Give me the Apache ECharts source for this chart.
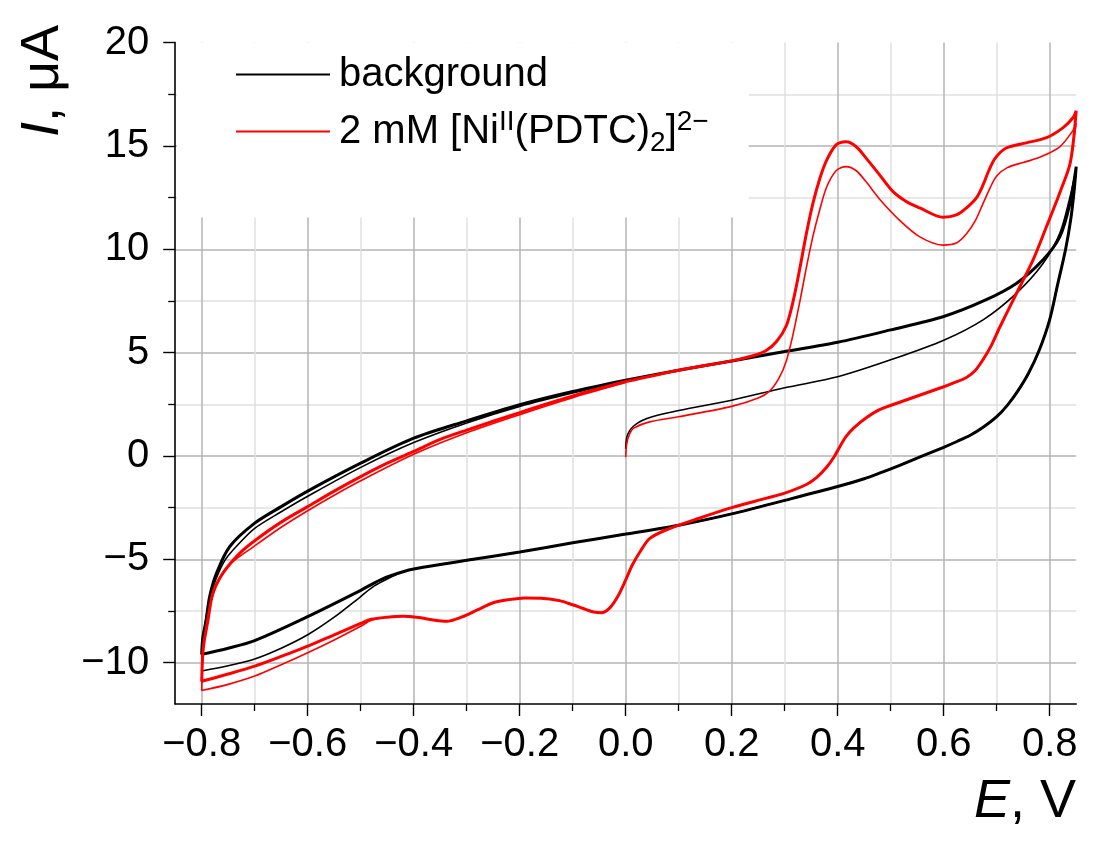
<!DOCTYPE html>
<html><head><meta charset="utf-8">
<script src="https://cdn.jsdelivr.net/npm/echarts@6/dist/echarts.min.js"></script>
<style>html,body{margin:0;padding:0;background:#fff}#c{width:1096px;height:847px}</style>
</head><body><div id="c"></div><script>
// ---------- tick values ----------
const xTicks = [-0.8, -0.6, -0.4, -0.2, 0, 0.2, 0.4, 0.6, 0.8];
const xMinorTicks = [-0.7, -0.5, -0.3, -0.1, 0.1, 0.3, 0.5, 0.7];
const yTicks = [-10, -5, 0, 5, 10, 15, 20];
const yMinorTicks = [-7.5, -2.5, 2.5, 7.5, 12.5, 17.5];

// ---------- series names ----------
const bgName = 'background';
const niName = '2 mM [Niᴵᴵ(PDTC)₂]²⁻';

// ---------- background (black) segments [E (V), I (µA)] ----------
const bgFwd1 = [[0,0.35],[0.002,0.9],[0.007,1.2],[0.015,1.45],[0.03,1.7],[0.05,1.9],[0.1,2.2],[0.2,2.7],[0.3,3.3],[0.4,3.83],[0.5,4.65],[0.6,5.6],[0.675,6.6],[0.737,7.87],[0.787,9.3],[0.819,10.77],[0.838,12.5],[0.85,13.9]];
const bgFwd2 = [[0,3.67],[0.1,4.15],[0.2,4.6],[0.3,5.05],[0.4,5.5],[0.5,6.1],[0.6,6.75],[0.675,7.5],[0.737,8.35],[0.787,9.48],[0.819,10.6],[0.838,12.2],[0.85,14.0]];
const bgRev = [[0.846,12.8],[0.84,11.5],[0.83,10.0],[0.815,8.3],[0.8,6.6],[0.78,5.1],[0.76,4.0],[0.74,3.15],[0.72,2.45],[0.7,1.9],[0.675,1.4],[0.65,1.0],[0.625,0.7],[0.6,0.42],[0.56,0.0],[0.517,-0.45],[0.48,-0.82],[0.45,-1.1],[0.4,-1.48],[0.3,-2.15],[0.2,-2.8],[0.1,-3.35],[0,-3.78],[-0.1,-4.2],[-0.2,-4.65],[-0.3,-5.05],[-0.35,-5.25],[-0.4,-5.47],[-0.42,-5.6]];
const bgRevA = [[-0.45,-5.95],[-0.475,-6.3],[-0.5,-6.8],[-0.55,-7.8],[-0.6,-8.65],[-0.65,-9.3],[-0.7,-9.82],[-0.75,-10.15],[-0.8,-10.4]];
const bgRevB = [[-0.45,-5.85],[-0.475,-6.15],[-0.5,-6.5],[-0.6,-7.77],[-0.7,-8.93],[-0.75,-9.3],[-0.8,-9.6]];
const bgRetA = [[-0.798,-9.2],[-0.793,-8.0],[-0.785,-6.95],[-0.773,-5.95],[-0.755,-5.0],[-0.73,-4.25],[-0.7,-3.5],[-0.65,-2.7],[-0.6,-1.95],[-0.5,-0.55],[-0.4,0.65],[-0.3,1.6],[-0.2,2.4],[-0.1,3.05],[0,3.62]];
const bgRetB = [[-0.798,-8.8],[-0.792,-8.0],[-0.785,-6.8],[-0.772,-5.67],[-0.747,-4.38],[-0.7,-3.25],[-0.65,-2.45],[-0.6,-1.7],[-0.5,-0.35],[-0.4,0.86],[-0.3,1.7],[-0.2,2.48],[-0.1,3.12],[0,3.67]];

// ---------- Ni complex (red) segments ----------
const niFwd1 = [[0,-0.05],[0.002,0.6],[0.008,1.1],[0.015,1.35],[0.045,1.65],[0.1,1.9],[0.2,2.4],[0.25,2.8],[0.272,3.15],[0.29,3.8],[0.303,4.6],[0.315,5.8],[0.328,7.4],[0.34,9.0],[0.353,10.6],[0.366,11.9],[0.379,13.0],[0.397,13.8],[0.416,14.0],[0.435,13.8],[0.454,13.25],[0.48,12.4],[0.517,11.4],[0.555,10.6],[0.599,10.2],[0.624,10.3],[0.643,10.75],[0.66,11.4],[0.674,12.2],[0.688,13.0],[0.7,13.55],[0.72,13.95],[0.75,14.2],[0.781,14.45],[0.819,14.96],[0.844,15.75],[0.85,16.1]];
const niFwd2 = [[0,3.6],[0.1,4.15],[0.2,4.6],[0.24,4.85],[0.265,5.1],[0.285,5.55],[0.303,6.3],[0.316,7.5],[0.328,9.0],[0.341,10.77],[0.353,12.2],[0.366,13.4],[0.379,14.3],[0.397,15.05],[0.416,15.2],[0.435,14.96],[0.454,14.4],[0.479,13.6],[0.504,12.8],[0.53,12.3],[0.555,12.0],[0.599,11.55],[0.624,11.66],[0.643,12.0],[0.662,12.5],[0.674,13.1],[0.685,13.8],[0.697,14.4],[0.718,14.9],[0.756,15.15],[0.794,15.4],[0.826,15.9],[0.845,16.4],[0.85,16.7]];
const niRev = [[0.845,15.3],[0.838,14.1],[0.82,12.8],[0.794,11.1],[0.768,9.45],[0.737,7.85],[0.706,6.24],[0.69,5.35],[0.674,4.65],[0.66,4.15],[0.643,3.8],[0.62,3.55],[0.6,3.35],[0.517,2.6],[0.48,2.25],[0.454,1.85],[0.43,1.35],[0.416,0.95],[0.405,0.5],[0.393,-0.05],[0.379,-0.55],[0.36,-1.05],[0.341,-1.38],[0.3,-1.8],[0.266,-2.04],[0.2,-2.5],[0.14,-3.0],[0.077,-3.57],[0.045,-4.0],[0.028,-4.6],[0.012,-5.3],[0,-6.0],[-0.015,-6.8],[-0.03,-7.35],[-0.045,-7.58],[-0.06,-7.55],[-0.08,-7.38],[-0.1,-7.2],[-0.125,-7.0],[-0.16,-6.88],[-0.19,-6.87],[-0.22,-6.95],[-0.25,-7.1],[-0.28,-7.45],[-0.31,-7.8],[-0.338,-8.0],[-0.36,-7.95],[-0.39,-7.82],[-0.42,-7.75],[-0.45,-7.8]];
const niRevA = [[-0.48,-7.95],[-0.5,-8.24],[-0.55,-8.9],[-0.6,-9.52],[-0.65,-10.1],[-0.7,-10.65],[-0.75,-11.05],[-0.8,-11.35]];
const niRevB = [[-0.48,-7.9],[-0.5,-8.1],[-0.55,-8.65],[-0.6,-9.2],[-0.65,-9.7],[-0.7,-10.17],[-0.75,-10.55],[-0.8,-10.9]];
const niRetA = [[-0.798,-9.6],[-0.792,-8.3],[-0.783,-7.1],[-0.768,-6.05],[-0.745,-5.2],[-0.7,-4.35],[-0.65,-3.45],[-0.6,-2.65],[-0.55,-1.9],[-0.5,-1.2],[-0.4,0.08],[-0.3,1.12],[-0.2,2.0],[-0.1,2.82],[0,3.55]];
const niRetB = [[-0.797,-9.3],[-0.788,-7.93],[-0.779,-6.64],[-0.76,-5.67],[-0.728,-4.7],[-0.7,-4.1],[-0.65,-3.2],[-0.6,-2.45],[-0.55,-1.7],[-0.5,-1.0],[-0.45,-0.35],[-0.4,0.22],[-0.35,0.8],[-0.3,1.25],[-0.2,2.1],[-0.1,2.9],[0,3.6]];

// cycles (scan order)
const bgCycle1 = bgFwd1.concat(bgRev, bgRevA, bgRetA);
const bgCycle2 = bgFwd2.concat(bgRev, bgRevB, bgRetB);
const niCycle1 = niFwd1.concat(niRev, niRevA, niRetA);
const niCycle2 = niFwd2.concat(niRev, niRevB, niRetB);

const FONT = "'Liberation Sans', Arial, sans-serif";
const minus = s => s.replace('-', '\u2212');
const xFmt = v => Math.abs(v) < 1e-9 ? '0.0' : minus(v.toFixed(1));
const yFmt = v => minus(String(v));

function lineSeries(name, data, color, width) {
  return {
    type: 'line', name: name, data: data, xAxisIndex: 0, yAxisIndex: 0,
    showSymbol: false, symbol: 'none', smooth: 0.3, silent: true,
    lineStyle: { color: color, width: width }, itemStyle: { color: color },
    z: 3
  };
}

const chart = echarts.init(document.getElementById('c'), null, { renderer: 'canvas' });
chart.setOption({
  animation: false,
  backgroundColor: '#ffffff',
  grid: { left: 175.2, right: 19.8, top: 42.6, bottom: 143, outerBoundsMode: 'none', containLabel: false },
  xAxis: [{
    type: 'value', min: -0.85, max: 0.85, position: 'bottom',
    axisLine: { show: true, onZero: false, lineStyle: { color: '#000', width: 1.6 } },
    axisTick: { show: true, inside: false, length: 12, customValues: xTicks, lineStyle: { color: '#000', width: 1.4 } },
    axisLabel: { show: true, customValues: xTicks, margin: 21, fontSize: 40, fontFamily: FONT, color: '#000', formatter: xFmt },
    splitLine: { show: true, lineStyle: { color: '#b5b5b5', width: 1.5 } }
  }, {
    type: 'value', min: -0.85, max: 0.85, position: 'bottom', gridIndex: 0,
    axisLine: { show: false, onZero: false },
    axisTick: { show: true, inside: false, length: 7, customValues: xMinorTicks, lineStyle: { color: '#000', width: 1.3 } },
    axisLabel: { show: false },
    splitLine: { show: true, lineStyle: { color: '#e0e0e0', width: 1.5 } }
  }],
  yAxis: [{
    type: 'value', min: -12, max: 20, position: 'left',
    axisLine: { show: true, onZero: false, lineStyle: { color: '#000', width: 1.6 } },
    axisTick: { show: true, inside: false, length: 12, customValues: yTicks, lineStyle: { color: '#000', width: 1.4 } },
    axisLabel: { show: true, customValues: yTicks, margin: 26, fontSize: 40, fontFamily: FONT, color: '#000', formatter: yFmt },
    splitLine: { show: true, showMaxLine: false, lineStyle: { color: '#b5b5b5', width: 1.5 } }
  }, {
    type: 'value', min: -12, max: 20, position: 'left', gridIndex: 0, offset: 0,
    axisLine: { show: false, onZero: false },
    axisTick: { show: true, inside: false, length: 7, customValues: yMinorTicks, lineStyle: { color: '#000', width: 1.3 } },
    axisLabel: { show: false },
    splitLine: { show: true, lineStyle: { color: '#e0e0e0', width: 1.5 } }
  }],
  legend: {
    data: [bgName, niName],
    orient: 'vertical', left: 177, top: 42.6,
    padding: [9, 40, 60, 59],
    backgroundColor: '#ffffff',
    icon: 'rect',
    itemWidth: 94, itemHeight: 2, itemGap: 8,
    selectedMode: false,
    z: 10,
    formatter: function (name) {
      if (name === bgName) return '{n|background}';
      return '{n|2 mM [Ni}{sup|II}{n|(PDTC)}{sub|2}{n|]}{sup|2\u2212}';
    },
    textStyle: {
      fontSize: 40, fontFamily: FONT, color: '#000', lineHeight: 46, padding: [0, 0, 0, 4],
      rich: {
        n: { fontSize: 40, fontFamily: FONT, color: '#000', lineHeight: 46 },
        sup: { fontSize: 28, fontFamily: FONT, color: '#000', lineHeight: 36, verticalAlign: 'top' },
        sub: { fontSize: 28, fontFamily: FONT, color: '#000', lineHeight: 32, padding: [24, 0, 0, 0], verticalAlign: 'middle' }
      }
    }
  },
  graphic: [{
    type: 'text', x: 1076, y: 802, z: 20,
    style: { text: '{i|E}, V', align: 'right', verticalAlign: 'middle', fontSize: 54, fontFamily: FONT, fill: '#000',
      rich: { i: { fontStyle: 'italic', fontSize: 54, fontFamily: FONT, fill: '#000' } } }
  }, {
    type: 'text', x: 43, y: 81, rotation: Math.PI / 2, z: 20,
    style: { text: '{i|I}, μA', align: 'center', verticalAlign: 'middle', fontSize: 54, fontFamily: FONT, fill: '#000',
      rich: { i: { fontStyle: 'italic', fontSize: 54, fontFamily: FONT, fill: '#000' } } }
  }],
  series: [
    lineSeries(bgName, bgCycle2, '#000000', 3),
    lineSeries(bgName, bgCycle1, '#000000', 1.6),
    lineSeries(niName, niCycle2, '#ff0000', 3),
    lineSeries(niName, niCycle1, '#ff0000', 1.6)
  ]
});
</script></body></html>
